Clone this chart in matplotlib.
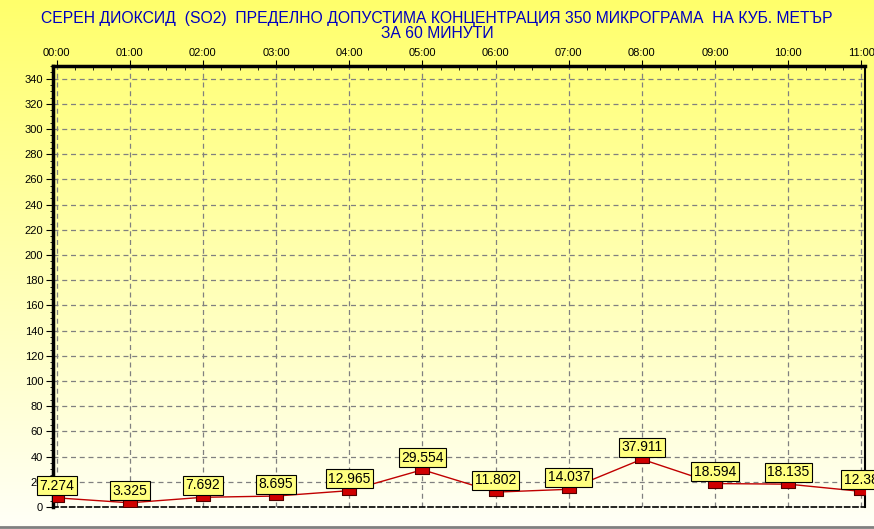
import numpy as np
import matplotlib.pyplot as plt
from matplotlib.ticker import MultipleLocator

plt.rcParams['font.family'] = ['Liberation Sans', 'DejaVu Sans']

hours = ['00:00', '01:00', '02:00', '03:00', '04:00', '05:00',
         '06:00', '07:00', '08:00', '09:00', '10:00', '11:00']
values = [7.274, 3.325, 7.692, 8.695, 12.965, 29.554,
          11.802, 14.037, 37.911, 18.594, 18.135, 12.38]
labels = ['7.274', '3.325', '7.692', '8.695', '12.965', '29.554',
          '11.802', '14.037', '37.911', '18.594', '18.135', '12.38']

title = ('СЕРЕН ДИОКСИД  (SO2)  ПРЕДЕЛНО ДОПУСТИМА КОНЦЕНТРАЦИЯ 350 МИКРОГРАМА  НА КУБ. МЕТЪР\n'
         'ЗА 60 МИНУТИ')

fig = plt.figure(figsize=(8.74, 5.29), dpi=100)

# yellow gradient background over the whole figure
bg = fig.add_axes([0, 0, 1, 1], zorder=-10)
grad = np.linspace(0, 1, 256).reshape(-1, 1)
top = np.array([1.0, 1.0, 0.42])
bot = np.array([1.0, 1.0, 0.97])
img = top + (bot - top) * grad[:, :, None]
bg.imshow(img, aspect='auto', extent=[0, 1, 0, 1])
bg.axhline(0.004, color='#808080', lw=2)
bg.set_xlim(0, 1)
bg.set_ylim(0, 1)
bg.axis('off')

ax = fig.add_axes([0.0606, 0.0416, 0.9291, 0.8336])
ax.patch.set_alpha(0)

# flat rectangle marker
rect = [(-1, -0.55), (1, -0.55), (1, 0.55), (-1, 0.55), (-1, -0.55)]

x = np.arange(len(values))
ax.plot(x, values, color='#c00000', lw=1, zorder=3)
ax.plot(x, values, ls='none', marker=rect, ms=10, mfc='#d00000', mec='#500000',
        mew=0.8, zorder=4)

for xi, v, t in zip(x, values, labels):
    ax.annotate(t, (xi, v), xytext=(0, 3.5), textcoords='offset points',
                ha='center', va='bottom', fontsize=10, zorder=5,
                bbox=dict(boxstyle='square,pad=0.18', fc='#ffff80', ec='black', lw=0.8),
                annotation_clip=False)

ax.set_xlim(-0.05, 11.05)
ax.set_ylim(0, 350)
ax.set_xticks(x)
ax.set_xticklabels(hours, fontsize=8)
ax.xaxis.tick_top()
ax.xaxis.set_minor_locator(MultipleLocator(0.25))
ax.tick_params(axis='x', which='major', direction='out', length=4, pad=2)
ax.tick_params(axis='x', which='minor', direction='in', length=3)

ax.set_yticks(np.arange(0, 341, 20))
ax.yaxis.set_minor_locator(MultipleLocator(5))
ax.tick_params(axis='y', which='major', direction='out', length=5, labelsize=8, pad=2)
ax.tick_params(axis='y', which='minor', direction='out', length=2)

ax.grid(True, which='major', ls=(0, (4, 3)), color='#808080', lw=0.9)

ax.spines['left'].set_linewidth(2.5)
ax.spines['top'].set_linewidth(2.5)
ax.spines['right'].set_linewidth(1.5)
ax.spines['bottom'].set_linewidth(1.2)
ax.spines['bottom'].set_linestyle((0, (3, 2)))

fig.text(0.5, 0.98, title, ha='center', va='top', fontsize=11.3,
         color='#0000c0', linespacing=1.05)

fig.savefig('out.png', dpi=100)
